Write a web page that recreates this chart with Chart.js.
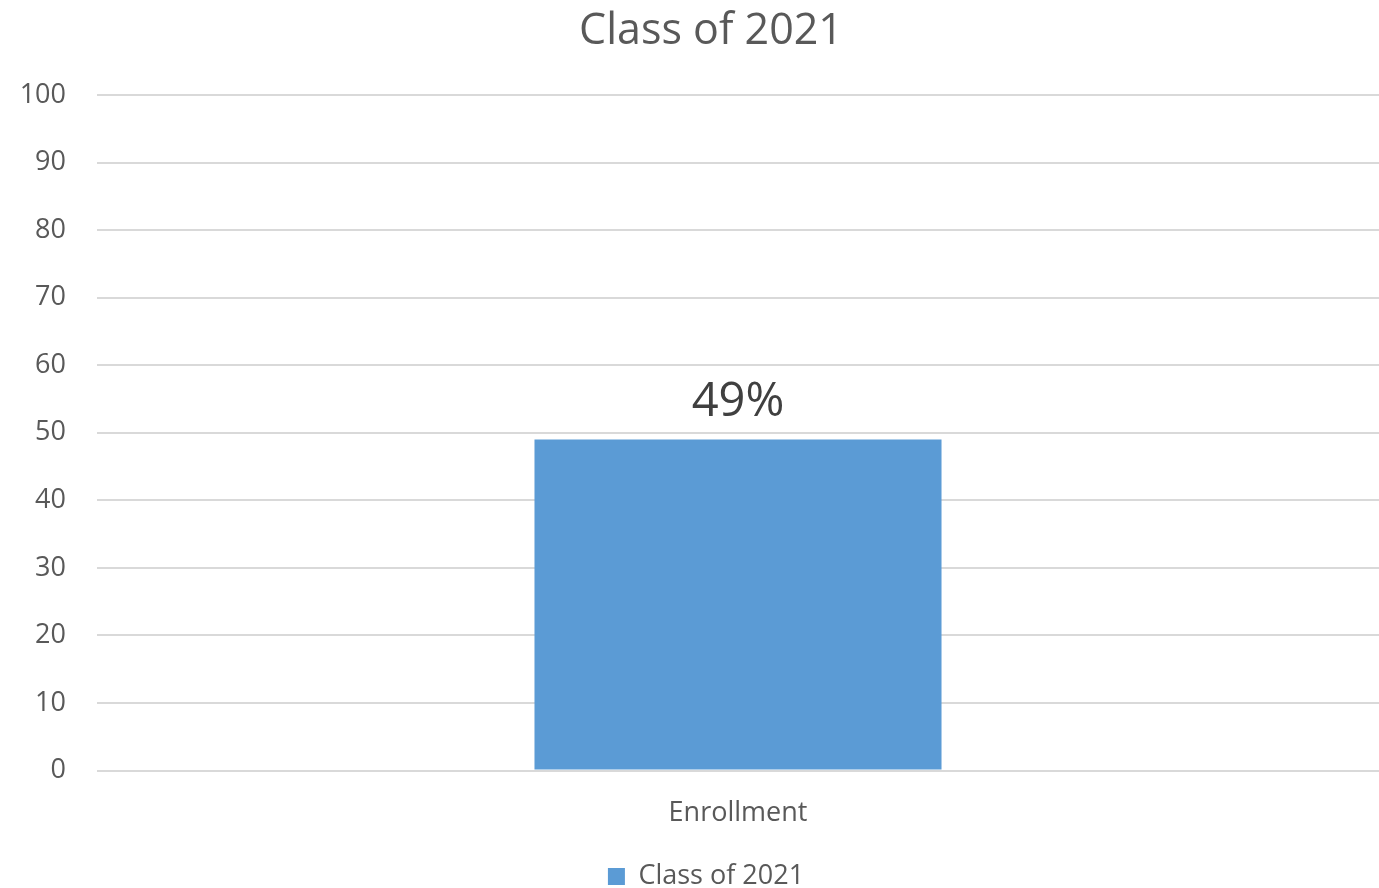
<!DOCTYPE html>
<html><head><meta charset="utf-8">
<script src="https://cdn.jsdelivr.net/npm/chart.js@4/dist/chart.umd.min.js"></script>
<style>html,body{margin:0;padding:0;background:#fff}#wrap{width:1379px;height:888px;position:relative}</style>
</head><body><div id="wrap"><canvas id="c"></canvas></div>
<script>
const categories = ["Enrollment"];
const seriesName = "Class of 2021";
const seriesValues = [49];
const dataLabels = ["49%"];
const chartTitle = "Class of 2021";
const yMin = 0, yMax = 100, yStep = 10;

const FONT = "'Open Sans', 'Noto Sans', sans-serif";

const barLabelPlugin = {
  id: 'barLabels',
  afterDatasetsDraw(chart) {
    const ctx = chart.ctx;
    const meta = chart.getDatasetMeta(0);
    ctx.save();
    ctx.font = "47px " + FONT;
    ctx.fillStyle = "#404040";
    ctx.textAlign = "center";
    ctx.textBaseline = "alphabetic";
    meta.data.forEach((el, i) => {
      ctx.fillText(dataLabels[i], el.x, el.y - 24);
    });
    ctx.restore();
  }
};

const titlePlugin = {
  id: 'customTitle',
  afterDraw(chart) {
    const ctx = chart.ctx;
    ctx.save();
    ctx.font = "43px " + FONT;
    ctx.fillStyle = "#595959";
    ctx.textAlign = "center";
    ctx.textBaseline = "alphabetic";
    ctx.fillText(chartTitle, 711, 44);
    ctx.restore();
  }
};

new Chart(document.getElementById('c'), {
  type: 'bar',
  data: {
    labels: categories,
    datasets: [{
      label: seriesName,
      data: seriesValues,
      backgroundColor: '#5b9bd5',
      barPercentage: 1,
      categoryPercentage: 0.3175
    }]
  },
  options: {
    responsive: true,
    maintainAspectRatio: false,
    animation: false,
    layout: { padding: { left: 20, right: -13, top: 95, bottom: -12 } },
    plugins: {
      title: { display: false },
      legend: {
        position: 'bottom',
        labels: {
          color: '#595959', font: { family: FONT, size: 27 },
          boxWidth: 17, boxHeight: 17, padding: 4
        }
      },
      tooltip: { enabled: false }
    },
    scales: {
      x: {
        grid: { display: false },
        border: { display: false },
        ticks: { color: '#595959', font: { family: FONT, size: 27 }, padding: 19 },
        afterFit(scale) { scale.height += 10; }
      },
      y: {
        min: yMin, max: yMax,
        border: { display: false },
        grid: { color: '#d9d9d9', lineWidth: 2, drawTicks: false },
        ticks: { stepSize: yStep, color: '#595959', font: { family: FONT, size: 27 }, padding: 31 },
        afterFit(scale) { scale.width = 77; }
      }
    }
  },
  plugins: [barLabelPlugin, titlePlugin]
});
</script></body></html>
